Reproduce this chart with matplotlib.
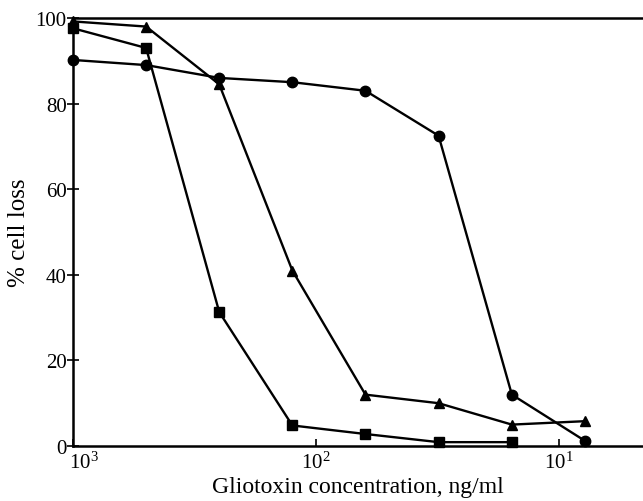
import matplotlib
matplotlib.use("Agg")
import matplotlib.pyplot as plt
import matplotlib.transforms as mtransforms

# gliotoxin dose series, ng/ml
conc = [1000, 500, 250, 125, 62.5, 31.25, 15.6, 7.8]
circles = [90.2, 89, 86, 85, 83, 72.5, 12, 1.2]
triangles = [99.2, 98, 84.5, 41, 12, 10, 5, 5.8]
squares = [97.6, 93, 31.3, 4.8, 2.8, 0.9, 0.9]

plt.rcParams['font.family'] = ['Liberation Serif', 'DejaVu Serif']

fig = plt.figure(figsize=(6.43, 5.02), dpi=100)
ax = fig.add_axes([73/643, 55/502, 570/643, 428/502])

ax.plot(conc, circles, '-o', color='black', lw=1.7, ms=7.5, clip_on=False)
ax.plot(conc, triangles, '-^', color='black', lw=1.7, ms=6.5, clip_on=False)
ax.plot(conc[:len(squares)], squares, '-s', color='black', lw=1.7, ms=7.5, clip_on=False)

ax.set_xscale('log')
ax.set_xlim(1000, 4.5)
ax.set_ylim(0, 100)
ax.set_xticks([1000, 100, 10])
ax.set_xticks([], minor=True)
ax.set_xticklabels(['$\\mathregular{10^3}$', '$\\mathregular{10^2}$', '$\\mathregular{10^1}$'])
ax.set_yticks([0, 20, 40, 60, 80, 100])

for s in ['left', 'bottom', 'top']:
    ax.spines[s].set_linewidth(1.8)
ax.spines['right'].set_visible(False)

ax.tick_params(axis='x', direction='in', length=5, width=1.2, labelsize=15, pad=4)
ax.tick_params(axis='y', direction='inout', length=9, width=1.2, labelsize=15, pad=0)

# nudge the 10^3 label right so it clears the "0"
lab0 = ax.get_xticklabels()[0]
lab0.set_transform(lab0.get_transform() + mtransforms.ScaledTranslation(8/72, 0, fig.dpi_scale_trans))

ax.set_xlabel('Gliotoxin concentration, ng/ml', fontsize=17, labelpad=2)
ax.set_ylabel('% cell loss', fontsize=18, labelpad=4)

fig.savefig('out.png', dpi=100)
